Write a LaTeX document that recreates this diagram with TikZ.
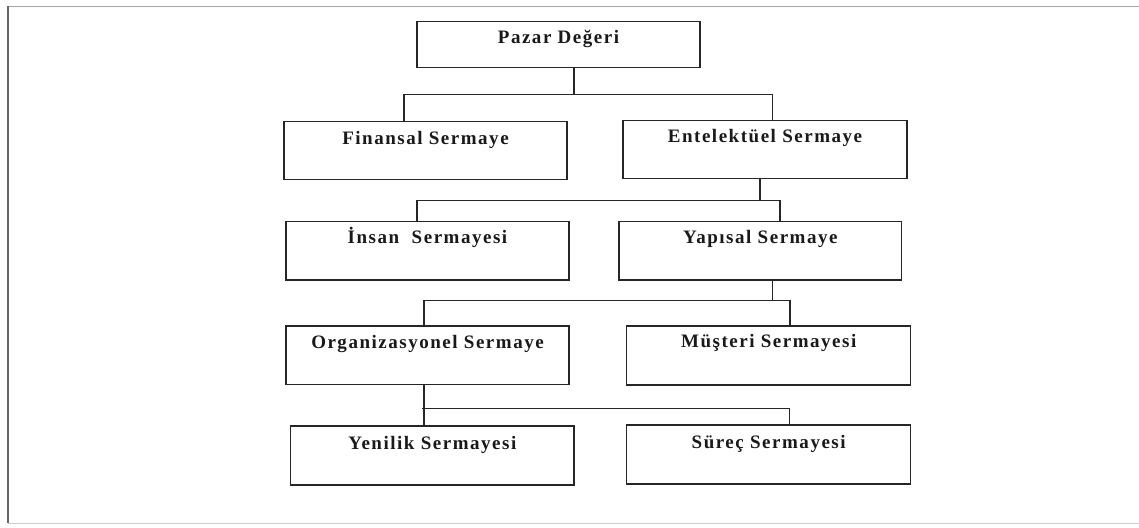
\documentclass[tikz,border=0pt]{standalone}
\usepackage{fontspec}
\usetikzlibrary{calc}
\newfontfamily\boxfont[LetterSpace=8]{Liberation Serif}
\begin{document}
\begin{tikzpicture}[x=1pt,y=-1pt,
  box/.style={draw=black!85, line width=1.3pt, rectangle, inner sep=0pt, fill=white},
  lbl/.style={font=\boxfont\bfseries\fontsize{19}{22}\selectfont, text=black!90, inner sep=0pt, anchor=base},
  link/.style={draw=black!85, line width=1.3pt}]
\useasboundingbox (0,0) rectangle (1139,527);
\fill[white] (0,0) rectangle (1139,527);
% page frame
\draw[black!20, line width=1pt] (8,523.5) -- (1139,523.5);
\draw[black!35, line width=1.5pt] (1139,6.3) -- (8,6.3);
\draw[black!60, line width=1.5pt] (8,6.3) -- (8,523);

% boxes
\node[box, minimum width=283pt, minimum height=45.6pt] (paz) at (558.5,44.5) {};
\node[box, minimum width=283pt, minimum height=57.6pt] (fin) at (425.5,150.5) {};
\node[box, minimum width=284pt, minimum height=58pt]   (ent) at (765,149.7) {};
\node[box, minimum width=283pt, minimum height=58.3pt] (ins) at (427.5,250.85) {};
\node[box, minimum width=282.7pt, minimum height=58.3pt] (yap) at (760.35,250.85) {};
\node[box, minimum width=283pt, minimum height=58.3pt] (org) at (427.5,355.15) {};
\node[box, minimum width=284pt, minimum height=59pt]   (mus) at (768.7,355.5) {};
\node[box, minimum width=283.3pt, minimum height=59pt] (yen) at (432.35,455.5) {};
\node[box, minimum width=284pt, minimum height=59pt]   (sur) at (768.7,454.5) {};

% titles
\node[lbl] (pazT) at ($(paz.north)+(0,22.5)$) {Pazar Değeri};
\node[lbl] (finT) at ($(fin.north)+(0,23.5)$) {Finansal Sermaye};
\node[lbl] (entT) at ($(ent.north)+(0,22.5)$) {Entelektüel Sermaye};
\node[lbl] (insT) at ($(ins.north)+(0,22)$) {İnsan\ \ Sermayesi};
\node[lbl] (yapT) at ($(yap.north)+(0,22)$) {Yapısal Sermaye};
\node[lbl] (orgT) at ($(org.north)+(0,23)$) {Organizasyonel Sermaye};
\node[lbl] (musT) at ($(mus.north)+(0,22.5)$) {Müşteri Sermayesi};
\node[lbl] (yenT) at ($(yen.north)+(0,24.5)$) {Yenilik Sermayesi};
\node[lbl] (surT) at ($(sur.north)+(0,24)$) {Süreç Sermayesi};

% connector junctions
\coordinate (k1) at (574,94.3);
\coordinate (b1l) at (404,94.3);
\coordinate (b1r) at (772.7,94.3);
\coordinate (k2) at (760,200.7);
\coordinate (b2l) at (417,200.7);
\coordinate (b2r) at (780,200.7);
\coordinate (k3) at (772.7,300.5);
\coordinate (b3l) at (424,300.5);
\coordinate (b3r) at (790,300.5);
\coordinate (k4) at (424,408.5);
\coordinate (b4l) at (422,408.5);
\coordinate (b4r) at (789.3,408.5);

% connectors
\draw[link] (paz.south -| k1) -- (k1);
\draw[link] (fin.north -| b1l) |- (b1r) -- (ent.north -| b1r);
\draw[link] (ent.south -| k2) -- (k2);
\draw[link] (ins.north -| b2l) |- (b2r) -- (yap.north -| b2r);
\draw[link] (yap.south -| k3) -- (k3);
\draw[link] (org.north -| b3l) |- (b3r) -- (mus.north -| b3r);
\draw[link] (org.south -| k4) -- (yen.north -| k4);
\draw[link] (b4l) -- (b4r) -- (sur.north -| b4r);
\end{tikzpicture}
\end{document}
